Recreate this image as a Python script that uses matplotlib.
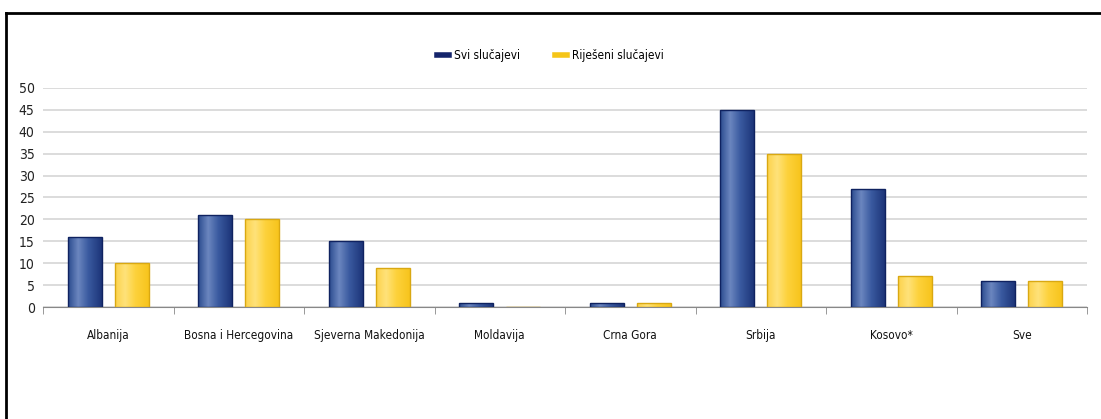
import numpy as np
import matplotlib
matplotlib.use("Agg")
import matplotlib.pyplot as plt
from matplotlib.colors import LinearSegmentedColormap
from matplotlib.lines import Line2D

plt.rcParams['font.family'] = ['DejaVu Sans']
plt.rcParams['font.stretch'] = 'condensed'

# Data
countries = ['Albanija', 'Bosna i Hercegovina', 'Sjeverna Makedonija', 'Moldavija',
             'Crna Gora', 'Srbija', 'Kosovo*', 'Sve']
svi = [16, 21, 15, 1, 1, 45, 27, 6]
rijeseni = [10, 20, 9, 0, 1, 35, 7, 6]
series_names = ['Svi slučajevi', 'Riješeni slučajevi']
y_ticks = [0, 5, 10, 15, 20, 25, 30, 35, 40, 45, 50]

# Shading for the bars: dark edges, light band left of centre
blue_cmap = LinearSegmentedColormap.from_list(
    'blue_bar', [(0, '#2a4a8e'), (0.3, '#6b86bf'), (0.6, '#3a5aa0'), (1, '#1c3478')])
yellow_cmap = LinearSegmentedColormap.from_list(
    'yellow_bar', [(0, '#fcd24a'), (0.3, '#ffe27a'), (0.6, '#fdd23c'), (1, '#f7c41c')])

fig = plt.figure(figsize=(11.01, 4.19), dpi=100)
ax = fig.add_axes([43 / 1101, (419 - 307) / 419, 1044 / 1101, 219 / 419])

x = np.arange(len(countries))
width = 0.26
offset = 0.18
gradient = np.linspace(0, 1, 256).reshape(1, -1)


def shaded_bars(xpos, values, cmap, edge):
    bars = ax.bar(xpos, values, width, color='none', edgecolor=edge,
                  linewidth=1.0, zorder=3)
    for bar in bars:
        h = bar.get_height()
        if h <= 0:
            continue
        x0 = bar.get_x()
        im = ax.imshow(gradient, cmap=cmap, aspect='auto', zorder=2.5,
                       extent=(x0, x0 + bar.get_width(), 0, h))
        im.set_clip_path(bar)
    return bars


shaded_bars(x - offset, svi, blue_cmap, '#0f2260')
shaded_bars(x + offset, rijeseni, yellow_cmap, '#d9a812')

ax.set_xlim(-0.5, len(countries) - 0.5)
ax.set_ylim(0, 50)
ax.set_yticks(y_ticks)
ax.set_yticklabels([str(t) for t in y_ticks], fontsize=10, color='#222222')
ax.tick_params(axis='y', length=0, pad=6)
ax.yaxis.grid(True, color='#d9d9d9', linewidth=1.3, zorder=0)
ax.set_axisbelow(True)

ax.set_xticks(x)
ax.set_xticklabels(countries, fontsize=8.5, color='#111111')
ax.tick_params(axis='x', which='major', length=0, pad=16)
ax.set_xticks(np.arange(len(countries) + 1) - 0.5, minor=True)
ax.tick_params(axis='x', which='minor', length=5, color='#888888', direction='out')

for side in ['top', 'right', 'left']:
    ax.spines[side].set_visible(False)
ax.spines['bottom'].set_color('#888888')

handles = [Line2D([0], [0], color='#14246b', lw=4),
           Line2D([0], [0], color='#f5c518', lw=4)]
fig.legend(handles, series_names, loc='center', bbox_to_anchor=(0.5, (419 - 56) / 419),
           ncol=2, frameon=False, fontsize=8.5, handlelength=1.0, handletextpad=0.4,
           columnspacing=3.0)

# Frame lines along the top and left edge
fig.add_artist(Line2D([6.5 / 1101, 1], [1 - 13.5 / 419, 1 - 13.5 / 419],
                      color='black', lw=2, transform=fig.transFigure))
fig.add_artist(Line2D([6.5 / 1101, 6.5 / 1101], [0, 1 - 13.5 / 419],
                      color='black', lw=2, transform=fig.transFigure))

fig.savefig('out.png', dpi=100)
